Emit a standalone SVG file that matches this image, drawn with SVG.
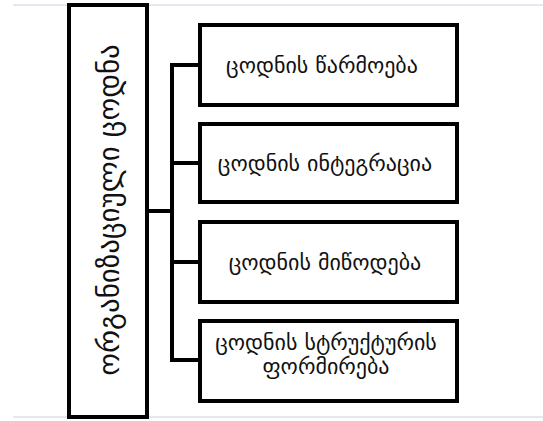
<svg xmlns="http://www.w3.org/2000/svg" width="543" height="421" viewBox="0 0 543 421">
  <style>
    .box { fill: #ffffff; stroke: #000000; stroke-width: 4; }
    .rule { stroke: #e6e8ef; stroke-width: 2; }
    .conn { fill: none; stroke: #000000; stroke-width: 4; stroke-linejoin: miter; }
    .lbl { font-family: "DejaVu Sans", "Noto Sans", sans-serif; font-size: 22px; fill: #111111; text-anchor: middle; }
    .main { font-family: "DejaVu Sans", "Noto Sans", sans-serif; font-size: 29px; fill: #111111; text-anchor: middle; }
  </style>
  <rect width="543" height="421" fill="#ffffff"/>
  <line class="rule" x1="13" y1="5" x2="543" y2="5"/>
  <line class="rule" x1="13" y1="417" x2="543" y2="417"/>

  <g id="connectors">
    <path class="conn" d="M147 211 H172"/>
    <path class="conn" d="M199 65 H172 V360 H199"/>
    <path class="conn" d="M172 163 H199"/>
    <path class="conn" d="M172 262 H199"/>
  </g>

  <g id="root">
    <rect class="box" x="69" y="5" width="78" height="412" stroke-width="3"/>
    <text class="main" transform="translate(119 210) rotate(-90)">ორგანიზაციული ცოდნა</text>
  </g>

  <g id="node1">
    <rect class="box" x="200" y="25" width="257" height="80"/>
    <text class="lbl" x="322" y="73">ცოდნის წარმოება</text>
  </g>
  <g id="node2">
    <rect class="box" x="200" y="124" width="257" height="78"/>
    <text class="lbl" x="325" y="171">ცოდნის ინტეგრაცია</text>
  </g>
  <g id="node3">
    <rect class="box" x="200" y="222" width="257" height="80"/>
    <text class="lbl" x="325" y="270">ცოდნის მიწოდება</text>
  </g>
  <g id="node4">
    <rect class="box" x="200" y="321" width="257" height="80"/>
    <text class="lbl" x="326" y="350">ცოდნის სტრუქტურის</text>
    <text class="lbl" x="326" y="374">ფორმირება</text>
  </g>
</svg>
